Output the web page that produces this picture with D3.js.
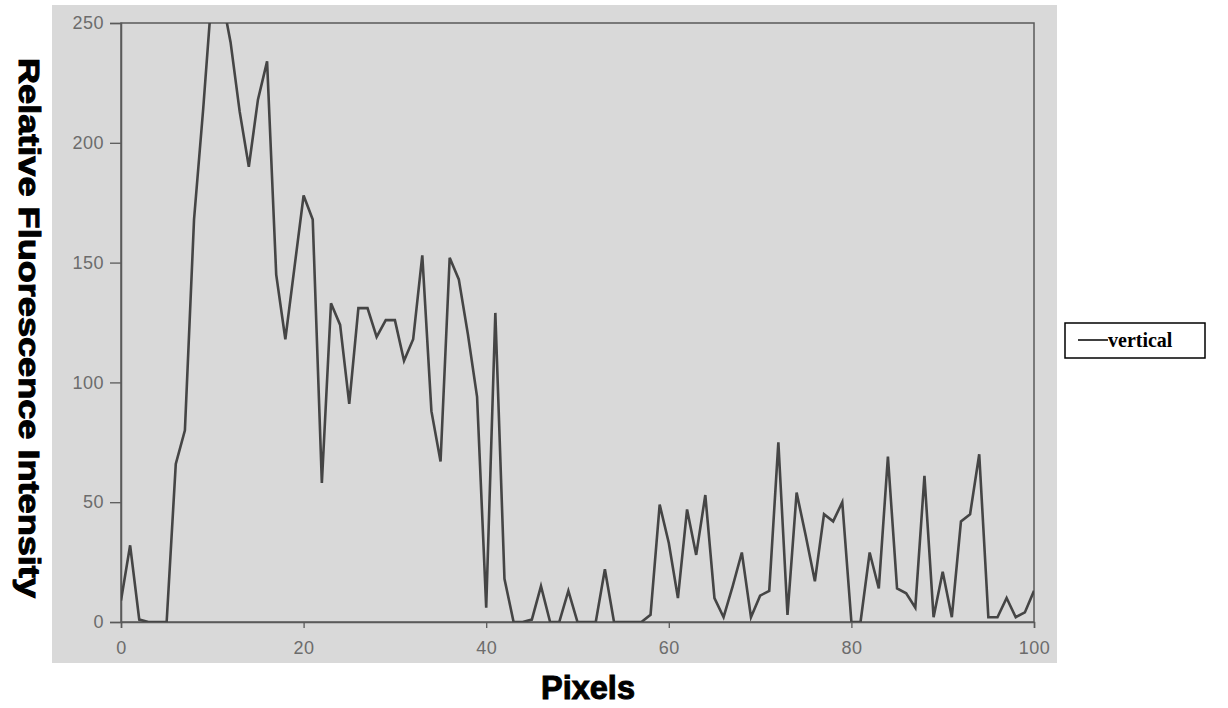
<!DOCTYPE html>
<html>
<head>
<meta charset="utf-8">
<script src="https://d3js.org/d3.v7.min.js"></script>
<style>
  body { margin: 0; background: #ffffff; }
  .tick text { font-family: "Liberation Sans", Arial, sans-serif; font-size: 18px; fill: #6c6c6c; letter-spacing: 0.5px; }
</style>
</head>
<body>
<div id="chart"></div>
<script>
// pixel positions along the line profile
const pixels = d3.range(0, 101);

// intensity (values at 10-11 run off the top of the frame)
const vertical = [
  9, 32, 1, 0, 0, 0, 66, 80, 168, 214,
  265, 262, 242, 213, 190, 218, 234, 145, 118, 148,
  178, 168, 58, 133, 124, 91, 131, 131, 119, 126,
  126, 109, 118, 153, 88, 67, 152, 143, 120, 94,
  6, 129, 18, 0, 0, 1, 15, 0, 0, 13,
  0, 0, 0, 22, 0, 0, 0, 0, 3, 49,
  33, 10, 47, 28, 53, 10, 2, 15, 29, 2,
  11, 13, 75, 3, 54, 36, 17, 45, 42, 50,
  0, 0, 29, 14, 69, 14, 12, 6, 61, 2,
  21, 2, 42, 45, 70, 2, 2, 10, 2, 4,
  13
];

const xTicks = [0, 20, 40, 60, 80, 100];
const yTicks = [0, 50, 100, 150, 200, 250];
const seriesName = "vertical";

const W = 1228, H = 708;
const plot = {left: 121, right: 1034, top: 23, bottom: 622};

const svg = d3.select("#chart")
  .append("svg")
    .attr("width", W)
    .attr("height", H);

// scanned grey panel
svg.append("rect")
  .attr("x", 52).attr("y", 5)
  .attr("width", 1005).attr("height", 658)
  .attr("fill", "#d9d9d9");

const x = d3.scaleLinear().domain([0, 100]).range([plot.left, plot.right]);
const y = d3.scaleLinear().domain([0, 250]).range([plot.bottom, plot.top]);

// frame
svg.append("rect")
  .attr("x", plot.left).attr("y", plot.top)
  .attr("width", plot.right - plot.left).attr("height", plot.bottom - plot.top)
  .attr("fill", "none")
  .attr("stroke", "#5a5a5a")
  .attr("stroke-width", 1.5);

// axes
const gx = svg.append("g")
  .attr("transform", `translate(0,${plot.bottom})`)
  .call(d3.axisBottom(x).tickValues(xTicks).tickSize(6).tickPadding(13).tickFormat(d3.format("d")));
const gy = svg.append("g")
  .attr("transform", `translate(${plot.left},0)`)
  .call(d3.axisLeft(y).tickValues(yTicks).tickSize(11).tickPadding(6).tickFormat(d3.format("d")));
[gx, gy].forEach(g => {
  g.select(".domain").attr("stroke", "#5a5a5a").attr("stroke-width", 1.5);
  g.selectAll(".tick line").attr("stroke", "#5a5a5a").attr("stroke-width", 1.3);
});

// clip so the saturated peak flattens on the top border
svg.append("clipPath").attr("id", "plotClip")
  .append("rect")
    .attr("x", plot.left).attr("y", plot.top)
    .attr("width", plot.right - plot.left).attr("height", plot.bottom - plot.top);

const line = d3.line()
  .x((d, i) => x(pixels[i]))
  .y(d => y(d));

svg.append("path")
  .datum(vertical)
  .attr("clip-path", "url(#plotClip)")
  .attr("fill", "none")
  .attr("stroke", "#454545")
  .attr("stroke-width", 2.6)
  .attr("stroke-linejoin", "miter")
  .attr("d", line);

// axis titles
svg.append("text")
  .attr("transform", "translate(19,328)rotate(90)")
  .attr("text-anchor", "middle")
  .attr("textLength", 540)
  .attr("lengthAdjust", "spacingAndGlyphs")
  .style("font-family", "'Liberation Sans', Arial, sans-serif")
  .style("font-weight", "bold")
  .style("font-size", "30px")
  .attr("fill", "#000")
  .attr("stroke", "#000")
  .attr("stroke-width", 1)
  .text("Relative Fluorescence Intensity");

svg.append("text")
  .attr("x", 588).attr("y", 699)
  .attr("text-anchor", "middle")
  .attr("textLength", 94)
  .attr("lengthAdjust", "spacingAndGlyphs")
  .style("font-family", "'Liberation Sans', Arial, sans-serif")
  .style("font-weight", "bold")
  .style("font-size", "33px")
  .attr("fill", "#000")
  .attr("stroke", "#000")
  .attr("stroke-width", 1)
  .text("Pixels");

// legend
const lg = svg.append("g").attr("transform", "translate(1065,323)");
lg.append("rect").attr("width", 140).attr("height", 35)
  .attr("fill", "#fff").attr("stroke", "#000").attr("stroke-width", 1.5);
lg.append("line").attr("x1", 13).attr("x2", 43).attr("y1", 17).attr("y2", 17)
  .attr("stroke", "#000").attr("stroke-width", 1.5);
lg.append("text").attr("x", 43).attr("y", 24)
  .style("font-family", "'Liberation Serif', 'Times New Roman', serif")
  .style("font-weight", "bold")
  .style("font-size", "20px")
  .attr("fill", "#000")
  .text(seriesName);
</script>
</body>
</html>
